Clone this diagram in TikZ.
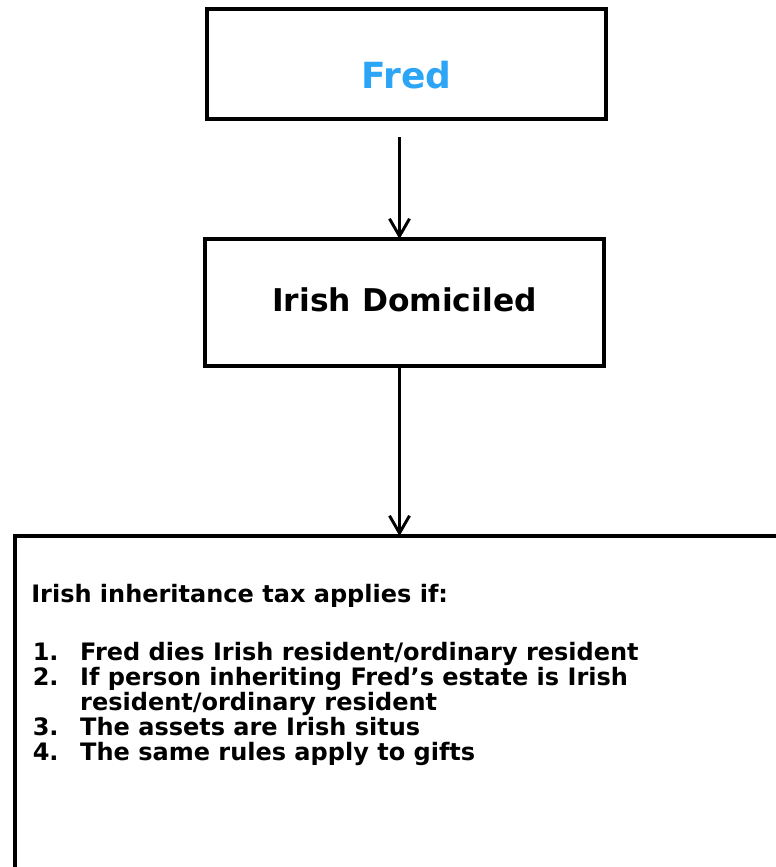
\documentclass[tikz,border=0pt]{standalone}
\usepackage{fontspec}
\setmainfont{DejaVu Sans}
\usetikzlibrary{arrows.meta, positioning}
\definecolor{fredblue}{HTML}{2CA5F6}

\begin{document}
\begin{tikzpicture}[
    x=0.75pt, y=-0.75pt,
    box/.style={draw, rectangle, line width=3pt, outer sep=0pt, inner sep=0pt, align=center, font=\bfseries},
    arrow/.style={-{Straight Barb[length=13pt, width=15pt]}, line width=2.2pt},
    txt/.style={inner sep=0pt, align=left, font=\fontsize{18pt}{18.75pt}\selectfont\bfseries}
]
\useasboundingbox (0,0) rectangle (775,867);

\node[box, minimum width=299pt, minimum height=82.5pt, text height=37.5pt, text depth=0pt,
      font=\fontsize{27pt}{30pt}\selectfont\bfseries, text=fredblue] (fred) at (406.5,64) {Fred};
\node[box, minimum width=299pt, minimum height=95.25pt, text height=13pt, text depth=0pt,
      font=\fontsize{23.5pt}{26pt}\selectfont\bfseries, below=90pt of fred, xshift=-1.5pt] (dom) {Irish Domiciled};
\node[box, anchor=north west, minimum width=577.5pt, minimum height=300pt] (rules) at (14.5,536) {};

% text inside the last box
\node[txt, anchor=base west] (head) at (31,602) {Irish inheritance tax applies if:};
\node[txt, anchor=north west] (list) at (32.5,641.8) {\makebox[35.6pt][l]{1.}Fred dies Irish resident/ordinary resident\\
\makebox[35.6pt][l]{2.}If person inheriting Fred’s estate is Irish\\
\hspace*{35.6pt}resident/ordinary resident\\
\makebox[35.6pt][l]{3.}The assets are Irish situs\\
\makebox[35.6pt][l]{4.}The same rules apply to gifts};

\draw[arrow, shorten <=13.5pt] (fred.south -| rules.north) -- (dom.north -| rules.north);
\draw[arrow] (dom.south -| rules.north) -- (rules.north);

\end{tikzpicture}
\end{document}
